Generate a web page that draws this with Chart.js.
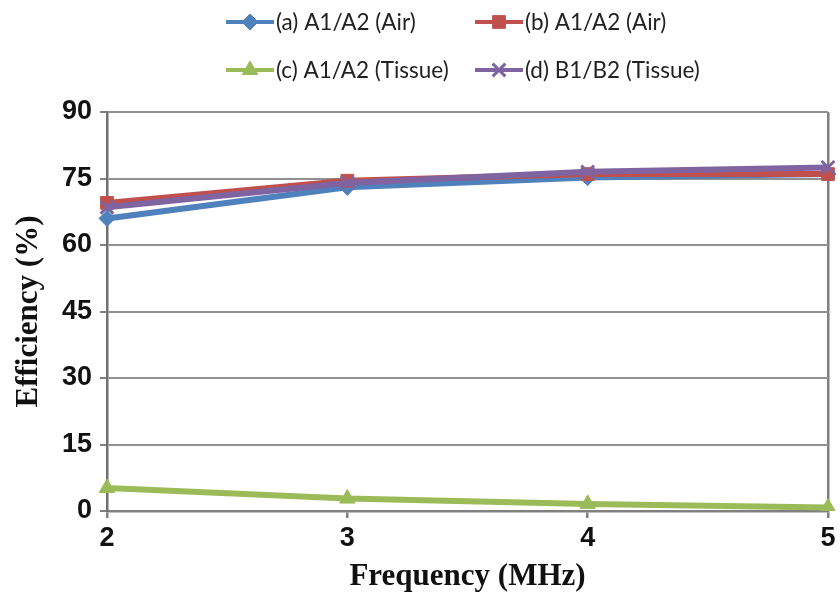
<!DOCTYPE html>
<html>
<head>
<meta charset="utf-8">
<script src="https://cdn.jsdelivr.net/npm/chart.js@4"></script>
<style>
html,body{margin:0;padding:0;background:#fff;}
#wrap{width:840px;height:596px;position:relative;}
</style>
</head>
<body>
<div id="wrap"><canvas id="c" width="840" height="596"></canvas></div>
<script>
const frequencies = ['2', '3', '4', '5'];
const seriesA = [66.0, 73.0, 75.2, 76.0];   // (a) A1/A2 (Air)
const seriesB = [69.5, 74.5, 76.0, 76.0];   // (b) A1/A2 (Air)
const seriesC = [5.2, 2.8, 1.6, 0.8];       // (c) A1/A2 (Tissue)
const seriesD = [68.5, 74.0, 76.5, 77.5];   // (d) B1/B2 (Tissue)
const yTicks = [0, 15, 30, 45, 60, 75, 90];
const labels = ['(a) A1/A2 (Air)', '(b) A1/A2 (Air)', '(c) A1/A2 (Tissue)', '(d) B1/B2 (Tissue)'];

function ds(label, data, color, style, radius, order) {
  return {
    label, data,
    borderColor: color, backgroundColor: color,
    borderWidth: 6, pointStyle: style, pointRadius: radius,
    pointBorderWidth: style === 'crossRot' ? 3 : 1,
    pointHoverRadius: radius, tension: 0, order
  };
}

const legendPlugin = {
  id: 'customLegend',
  afterDraw(chart) {
    const ctx = chart.ctx;
    const pos = [[226, 22], [475, 22], [226, 70], [475, 70]];
    ctx.save();
    ctx.font = '22.5px Lato';
    ctx.textBaseline = 'middle';
    chart.data.datasets.forEach((d, i) => {
      const [x, y] = pos[i];
      ctx.strokeStyle = d.borderColor;
      ctx.lineWidth = 4;
      ctx.beginPath(); ctx.moveTo(x, y); ctx.lineTo(x + 48, y); ctx.stroke();
      ctx.fillStyle = d.borderColor;
      ctx.strokeStyle = d.borderColor;
      ctx.lineWidth = d.pointBorderWidth;
      Chart.helpers.drawPoint(ctx, {pointStyle: d.pointStyle, radius: d.pointRadius, rotation: 0, borderWidth: d.pointBorderWidth}, x + 24, y);
      ctx.fillStyle = '#222';
      ctx.fillText(d.label, x + 50, y + 1);
    });
    ctx.restore();
  }
};

new Chart(document.getElementById('c'), {
  type: 'line',
  data: {
    labels: frequencies,
    datasets: [
      ds(labels[0], seriesA, '#4F81BD', 'rectRot', 8, 4),
      ds(labels[1], seriesB, '#C0504D', 'rect', 9, 2),
      ds(labels[2], seriesC, '#9BBB59', 'triangle', 9, 3),
      ds(labels[3], seriesD, '#8064A2', 'crossRot', 9, 1)
    ]
  },
  options: {
    responsive: false,
    animation: false,
    layout: { padding: { top: 112, right: 10, left: 0, bottom: 0 } },
    plugins: { legend: { display: false }, tooltip: { enabled: false } },
    scales: {
      x: {
        offset: false,
        afterFit(s) { s.height = 85; },
        grid: {
          drawOnChartArea: true,
          color: (c) => c.index === 3 ? '#808080' : 'rgba(0,0,0,0)',
          tickColor: '#808080',
          lineWidth: 2.5,
          tickLength: 7
        },
        border: { color: '#808080', width: 2.5 },
        ticks: { color: '#111', font: { family: 'Liberation Sans', weight: 'bold', size: 27 }, padding: 4, maxRotation: 0 },
        title: { display: true, text: 'Frequency (MHz)', color: '#111', font: { family: 'Liberation Serif', weight: 'bold', size: 31 }, padding: { top: 6, bottom: 0 } }
      },
      y: {
        min: 0, max: 90,
        afterFit(s) { s.width = 107; },
        afterBuildTicks(s) { s.ticks = yTicks.map(v => ({ value: v })); },
        grid: { color: '#909090', lineWidth: 2, tickColor: '#808080', tickLength: 7 },
        border: { color: '#707070', width: 2.5 },
        ticks: { color: '#111', font: { family: 'Liberation Sans', weight: 'bold', size: 27 }, padding: 8 },
        title: { display: true, text: 'Efficiency (%)', color: '#111', font: { family: 'Liberation Serif', weight: 'bold', size: 31 }, padding: { top: 10, bottom: 0 } }
      }
    }
  },
  plugins: [legendPlugin]
});
</script>
</body>
</html>
